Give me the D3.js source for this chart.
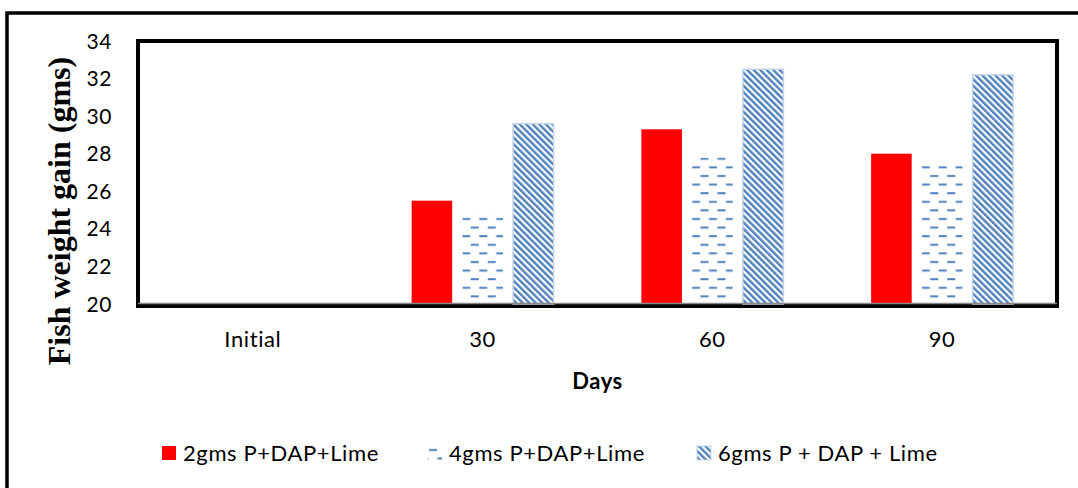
<!DOCTYPE html>
<html>
<head>
<meta charset="utf-8">
<script src="https://cdn.jsdelivr.net/npm/d3@7"></script>
<style>
  body { margin: 0; background: #fff; }
  svg text { font-family: Lato, "Open Sans", sans-serif; fill: #000; letter-spacing: 0.6px; }
</style>
</head>
<body>
<svg id="chart" width="1078" height="488"></svg>
<script>
const categories = ["Initial", "30", "60", "90"];
const seriesNames = ["2gms P+DAP+Lime", "4gms P+DAP+Lime", "6gms P + DAP + Lime"];
const series2gms = [20, 25.5, 29.3, 28.0];
const series4gms = [20, 24.9, 27.8, 27.6];
const series6gms = [20, 29.6, 32.5, 32.2];
const yTicks = [20, 22, 24, 26, 28, 30, 32, 34];

const plot = { left: 138, top: 41, right: 1057, bottom: 304 };

const svg = d3.select("#chart");
const defs = svg.append("defs");

// dashed pattern (horizontal dashes, staggered rows)
const dash = defs.append("pattern")
  .attr("id", "dashPat")
  .attr("patternUnits", "userSpaceOnUse")
  .attr("width", 17).attr("height", 17.2);
dash.append("rect").attr("width", 17).attr("height", 17.2).attr("fill", "#fff");
dash.append("rect").attr("x", 1).attr("y", 3).attr("width", 8).attr("height", 2).attr("fill", "#4f81bd");
dash.append("rect").attr("x", 9.5).attr("y", 11.6).attr("width", 8).attr("height", 2).attr("fill", "#4f81bd");
dash.append("rect").attr("x", -7.5).attr("y", 11.6).attr("width", 8).attr("height", 2).attr("fill", "#4f81bd");

// diagonal hatch pattern
const hatch = defs.append("pattern")
  .attr("id", "hatchPat")
  .attr("patternUnits", "userSpaceOnUse")
  .attr("width", 4.6).attr("height", 10)
  .attr("patternTransform", "rotate(-45)");
hatch.append("rect").attr("width", 4.6).attr("height", 10).attr("fill", "#fff");
hatch.append("rect").attr("width", 2.4).attr("height", 10).attr("fill", "#4f81bd");

const fills = ["#ff0000", "url(#dashPat)", "url(#hatchPat)"];

// outer frame
svg.append("rect")
  .attr("x", 7).attr("y", 13)
  .attr("width", 1100).attr("height", 500)
  .attr("fill", "none").attr("stroke", "#000").attr("stroke-width", 3.5);

const x0 = d3.scaleBand().domain(categories).range([plot.left, plot.right]);
const x1 = d3.scaleBand().domain(seriesNames).range([x0.bandwidth() / 2 - 71, x0.bandwidth() / 2 + 71]).paddingInner(0.2);
const y = d3.scaleLinear().domain([20, 34]).range([plot.bottom, plot.top]);

// plot area border
svg.append("rect")
  .attr("x", plot.left).attr("y", plot.top)
  .attr("width", plot.right - plot.left).attr("height", plot.bottom - plot.top + 2)
  .attr("fill", "none").attr("stroke", "#000").attr("stroke-width", 4);

const allSeries = [series2gms, series4gms, series6gms];
const rows = categories.map((c, i) => ({ cat: c, vals: allSeries.map((s, k) => ({ name: seriesNames[k], k, v: s[i] })) }));

const groups = svg.append("g").selectAll("g")
  .data(rows).join("g")
  .attr("transform", d => `translate(${x0(d.cat)},0)`);

groups.selectAll("rect")
  .data(d => d.vals.filter(v => v.v > 20))
  .join("rect")
  .attr("x", d => x1(d.name))
  .attr("width", x1.bandwidth())
  .attr("y", d => y(d.v))
  .attr("height", d => y(20) - y(d.v))
  .attr("fill", d => fills[d.k])
  .attr("stroke", d => d.k === 2 ? "#c6d5ea" : "none")
  .attr("stroke-width", 1.5);

// x axis line (gray)
svg.append("line")
  .attr("x1", plot.left).attr("x2", plot.right)
  .attr("y1", y(20) - 0.5).attr("y2", y(20) - 0.5)
  .attr("stroke", "#888").attr("stroke-width", 1.5);

// y tick labels
svg.append("g").selectAll("text")
  .data(yTicks).join("text")
  .attr("x", 112).attr("y", d => y(d))
  .attr("dy", "0.36em")
  .attr("text-anchor", "end")
  .attr("font-size", 21)
  .text(d => d);

// x tick labels
svg.append("g").selectAll("text")
  .data(categories).join("text")
  .attr("x", d => x0(d) + x0.bandwidth() / 2)
  .attr("y", 347)
  .attr("text-anchor", "middle")
  .attr("font-size", 22)
  .text(d => d);

svg.append("text")
  .attr("x", (plot.left + plot.right) / 2).attr("y", 389)
  .attr("text-anchor", "middle")
  .attr("font-size", 22).attr("font-weight", "bold")
  .text("Days");

svg.append("text")
  .attr("transform", "translate(70,211) rotate(-90)")
  .attr("text-anchor", "middle")
  .style("font-family", "'Liberation Serif', 'Times New Roman', serif")
  .style("letter-spacing", "0px")
  .attr("font-size", 32).attr("font-weight", "bold")
  .text("Fish weight gain (gms)");

// legend
const legendX = [162, 428, 697];
const leg = svg.append("g").selectAll("g")
  .data(seriesNames).join("g")
  .attr("transform", (d, i) => `translate(${legendX[i]},446)`);
leg.append("rect")
  .attr("width", 14).attr("height", 14)
  .attr("fill", (d, i) => fills[i])
  .attr("stroke", (d, i) => i === 2 ? "#c6d5ea" : "none");
leg.append("text")
  .attr("x", 21).attr("y", 7).attr("dy", "0.36em")
  .attr("font-size", 22)
  .text(d => d);
</script>
</body>
</html>
